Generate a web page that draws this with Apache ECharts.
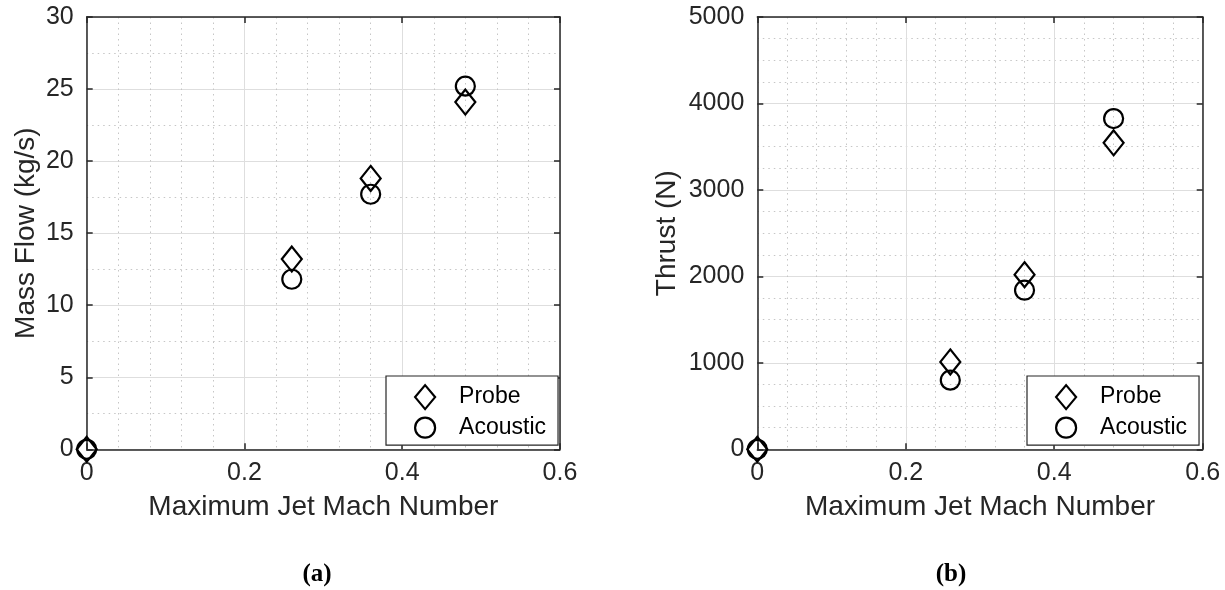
<!DOCTYPE html>
<html lang="en">

<head>
  <meta charset="UTF-8">
  <title>Mass flow and thrust</title>
  <script src="https://cdn.jsdelivr.net/npm/echarts@6/dist/echarts.min.js"></script>
  <style>
    body { margin: 0; background: #fff; }
  </style>
</head>

<body>
  <div id="chart" style="width: 1225px; height: 590px"></div>

  <script>
    let dom = document.getElementById('chart')
    let myChart = echarts.init(dom)

    // data
    let mach = [0, 0.26, 0.36, 0.48]
    let flowProbe = [0, 13.2, 18.8, 24.1]
    let flowAcoustic = [0, 11.8, 17.7, 25.2]
    let thrustProbe = [0, 1010, 2020, 3545]
    let thrustAcoustic = [0, 800, 1840, 3825]
    let seriesNames = ['Probe', 'Acoustic']
    let captions = ['(a)', '(b)']

    const ink = '#262626'
    const pairs = (ys) => mach.map((m, i) => [m, ys[i]])

    // bottom/left axis with labels and grid lines
    function mainX(grid, name) {
      return {
        type: 'value', gridIndex: grid, min: 0, max: 0.6, interval: 0.2,
        name: name, nameLocation: 'middle', nameGap: 44,
        nameTextStyle: { color: ink, fontSize: 28, fontFamily: 'Liberation Sans' },
        axisLine: { lineStyle: { color: ink, width: 1.5 } },
        axisTick: { inside: true, length: 6, lineStyle: { color: ink, width: 1.5 } },
        axisLabel: { color: ink, fontSize: 25, fontFamily: 'Liberation Sans', margin: 11 },
        splitLine: { show: true, lineStyle: { color: '#dedede', width: 1 } },
        minorTick: { show: false, splitNumber: 5 },
        minorSplitLine: { show: true, lineStyle: { color: '#c6c6c6', width: 1, type: [1.5, 4] } }
      }
    }

    function mainY(grid, name, max, step, minorSplit, gap) {
      return {
        type: 'value', gridIndex: grid, min: 0, max: max, interval: step,
        name: name, nameLocation: 'middle', nameGap: gap,
        nameTextStyle: { color: ink, fontSize: 28, fontFamily: 'Liberation Sans' },
        axisLine: { show: true, lineStyle: { color: ink, width: 1.5 } },
        axisTick: { show: true, inside: true, length: 6, lineStyle: { color: ink, width: 1.5 } },
        axisLabel: { color: ink, fontSize: 25, fontFamily: 'Liberation Sans', margin: 13, formatter: (v) => String(v) },
        splitLine: { show: true, lineStyle: { color: '#dedede', width: 1 } },
        minorTick: { show: false, splitNumber: minorSplit },
        minorSplitLine: { show: true, lineStyle: { color: '#c6c6c6', width: 1, type: [1.5, 4] } }
      }
    }

    // top/right axes only close the box and carry inner ticks
    function boxAxis(grid, pos, max, step) {
      return {
        type: 'value', gridIndex: grid, position: pos, min: 0, max: max, interval: step,
        axisLine: { show: true, onZero: false, lineStyle: { color: ink, width: 1.5 } },
        axisTick: { show: true, inside: true, length: 6, lineStyle: { color: ink, width: 1.5 } },
        axisLabel: { show: false },
        splitLine: { show: false }
      }
    }

    const hollow = { color: 'rgba(0,0,0,0)', borderColor: '#000', borderWidth: 2.2, opacity: 1 }

    function scatter(name, xi, yi, data) {
      let isProbe = name === 'Probe'
      return {
        type: 'scatter', name: name, xAxisIndex: xi, yAxisIndex: yi,
        symbol: isProbe ? 'diamond' : 'circle',
        symbolSize: isProbe ? [20, 25] : 19,
        itemStyle: hollow,
        clip: false,
        z: isProbe ? 4 : 3,
        data: data
      }
    }

    function legend(left, top) {
      return {
        orient: 'vertical', left: left, top: top,
        data: seriesNames,
        padding: [8, 12, 6, 28],
        itemWidth: 20, itemHeight: 24, itemGap: 6,
        backgroundColor: '#fff', borderColor: ink, borderWidth: 1.2, borderRadius: 0,
        itemStyle: hollow,
        textStyle: { color: '#000', fontSize: 23, fontFamily: 'Liberation Sans', padding: [0, 0, 0, 19] },
        selectedMode: false
      }
    }

    let option = {
      backgroundColor: '#fff',
      animation: false,
      grid: [
        { left: 86.7, top: 17, width: 473.3, height: 432.3 },
        { left: 757.3, top: 17, width: 445.4, height: 432.3 }
      ],
      xAxis: [
        mainX(0, 'Maximum Jet Mach Number'),
        boxAxis(0, 'top', 0.6, 0.2),
        mainX(1, 'Maximum Jet Mach Number'),
        boxAxis(1, 'top', 0.6, 0.2)
      ],
      yAxis: [
        mainY(0, 'Mass Flow (kg/s)', 30, 5, 2, 46),
        boxAxis(0, 'right', 30, 5),
        mainY(1, 'Thrust (N)', 5000, 1000, 4, 76),
        boxAxis(1, 'right', 5000, 1000)
      ],
      legend: [legend(386, 376), legend(1027, 376)],
      series: [
        scatter(seriesNames[0], 0, 0, pairs(flowProbe)),
        scatter(seriesNames[1], 0, 0, pairs(flowAcoustic)),
        scatter(seriesNames[0], 2, 2, pairs(thrustProbe)),
        scatter(seriesNames[1], 2, 2, pairs(thrustAcoustic))
      ],
      graphic: [
        { type: 'text', x: 317, y: 575, style: { text: captions[0], align: 'center', verticalAlign: 'middle', font: 'bold 25px "Liberation Serif"', fill: '#000' } },
        { type: 'text', x: 951, y: 575, style: { text: captions[1], align: 'center', verticalAlign: 'middle', font: 'bold 25px "Liberation Serif"', fill: '#000' } }
      ]
    }
    myChart.setOption(option)
  </script>
</body>

</html>
